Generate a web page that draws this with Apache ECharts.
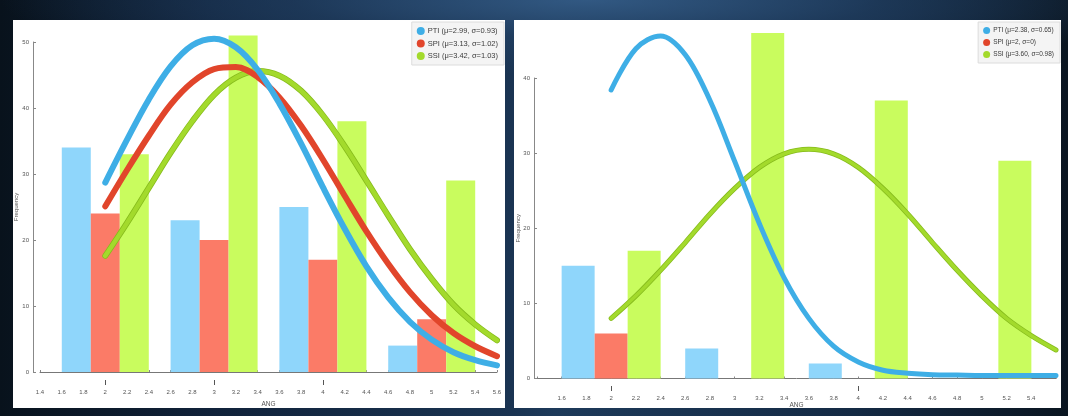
<!DOCTYPE html>
<html>
<head>
<meta charset="utf-8">
<script src="https://cdn.jsdelivr.net/npm/echarts@6/dist/echarts.min.js"></script>
<style>
  html, body { margin: 0; padding: 0; }
  body {
    width: 1068px; height: 416px; overflow: hidden; position: relative;
    background:
      radial-gradient(ellipse 55% 18% at 55% 0%, rgba(52, 92, 135, 0.9) 0%, rgba(35, 66, 102, 0.6) 50%, rgba(20, 40, 64, 0) 100%),
      linear-gradient(90deg, #08121c 0%, #10223a 20%, #1a3452 48%, #1d3a5a 52%, #142a44 80%, #0a1520 100%);
  }
  .panel { position: absolute; background: #ffffff; }
  #left  { left: 13px;  top: 20px; width: 492px; height: 388px; }
  #right { left: 514px; top: 20px; width: 547px; height: 388px; }
</style>
</head>
<body>
<div id="left" class="panel"></div>
<div id="right" class="panel"></div>
<script>
// ANG bin centres shared by both histograms
const ANG_GROUPS = [2, 3, 4, 5];

// Frequencies per bin, left histogram
const LEFT_PTI_BARS = [34, 23, 25, 4];
const LEFT_SPI_BARS = [24, 20, 17, 8];
const LEFT_SSI_BARS = [33, 51, 38, 29];

// Frequencies per bin, right histogram
const RIGHT_PTI_BARS = [15, 4, 2, 0];
const RIGHT_SPI_BARS = [6, 0, 0, 0];
const RIGHT_SSI_BARS = [17, 46, 37, 29];

// Fitted density curves, sampled along ANG
const CURVE_X = [2.0, 2.2, 2.4, 2.6, 2.8, 3.0, 3.2, 3.4, 3.6, 3.8, 4.0, 4.2, 4.4, 4.6, 4.8, 5.0, 5.2, 5.4, 5.6];
const LEFT_PTI_CURVE = [28.7, 35.2, 41.3, 46.3, 49.5, 50.5, 49.2, 45.8, 40.7, 34.6, 28.0, 21.7, 16.0, 11.3, 7.6, 4.9, 3.0, 1.8, 1.0];
const LEFT_SPI_CURVE = [25.1, 30.6, 35.8, 40.5, 43.9, 45.9, 46.2, 44.7, 41.6, 37.3, 32.2, 26.7, 21.3, 16.4, 12.1, 8.6, 5.9, 3.9, 2.4];
const LEFT_SSI_CURVE = [17.6, 22.6, 27.9, 33.2, 38.0, 42.0, 44.6, 45.6, 44.9, 42.6, 38.9, 34.2, 29.0, 23.7, 18.6, 14.1, 10.2, 7.2, 4.8];
const RIGHT_PTI_CURVE = [38.4, 43.9, 45.6, 43.1, 37.0, 28.9, 20.6, 13.4, 8.0, 4.3, 2.2, 1.1, 0.7, 0.5, 0.45, 0.4, 0.4, 0.4, 0.4];
const RIGHT_SSI_CURVE = [8.0, 11.0, 14.4, 18.1, 21.9, 25.3, 28.1, 29.9, 30.5, 29.9, 28.1, 25.3, 21.9, 18.1, 14.4, 11.0, 8.0, 5.7, 3.8];

// Axis ticks
const X_TICKS = [1.4, 1.6, 1.8, 2, 2.2, 2.4, 2.6, 2.8, 3, 3.2, 3.4, 3.6, 3.8, 4, 4.2, 4.4, 4.6, 4.8, 5, 5.2, 5.4, 5.6];
const X_TICKS_RIGHT_LABELS = [1.6, 1.8, 2, 2.2, 2.4, 2.6, 2.8, 3, 3.2, 3.4, 3.6, 3.8, 4, 4.2, 4.4, 4.6, 4.8, 5, 5.2, 5.4];
const X_MAJOR_LEFT = [2, 3, 4];
const X_MAJOR_RIGHT = [2, 4];
const Y_TICKS_LEFT = [0, 10, 20, 30, 40, 50];
const Y_TICKS_RIGHT = [0, 10, 20, 30, 40];

// Legend entries (fit parameters)
const LEFT_LEGEND = ['PTI (\u03bc=2.99, \u03c3=0.93)', 'SPI (\u03bc=3.13, \u03c3=1.02)', 'SSI (\u03bc=3.42, \u03c3=1.03)'];
const RIGHT_LEGEND = ['PTI (\u03bc=2.38, \u03c3=0.65)', 'SPI (\u03bc=2, \u03c3=0)', 'SSI (\u03bc=3.60, \u03c3=0.98)'];

const BAR_COLORS = { PTI: '#8fd6fb', SPI: '#fb7b67', SSI: '#c9fc5e' };
const CURVE_COLORS = { PTI: '#3eaee6', SPI: '#e1452b', SSI: '#a3da2c' };
const SSI_EDGE = '#86bb1c';
const FONT = '"Liberation Sans", "DejaVu Sans", sans-serif';

function pairs(xs, ys) { return xs.map((x, i) => [x, ys[i]]); }

function buildOption(cfg) {
  const bar = (name, vals) => ({
    type: 'bar', name: name, data: pairs(ANG_GROUPS, vals),
    barWidth: cfg.barWidth, barGap: '0%', clip: false, silent: true, z: 2,
    itemStyle: { color: BAR_COLORS[name] }
  });
  const curve = (key, label, vals, width) => ({
    type: 'line', name: label, data: vals ? pairs(CURVE_X, vals) : [],
    smooth: 0.35, showSymbol: false, clip: false, silent: true, z: 6,
    lineStyle: { width: width, color: CURVE_COLORS[key], cap: 'round' },
    itemStyle: { color: CURVE_COLORS[key] }
  });
  // darker rim under the SSI fit line
  const ssiRim = (vals, width) => ({
    type: 'line', name: 'SSI rim', data: pairs(CURVE_X, vals),
    smooth: 0.35, showSymbol: false, clip: false, silent: true, z: 5,
    lineStyle: { width: width + 1.5, color: SSI_EDGE, cap: 'round' }
  });

  const series = [
    bar('PTI', cfg.bars.PTI),
    bar('SPI', cfg.bars.SPI),
    bar('SSI', cfg.bars.SSI),
    ssiRim(cfg.curves.SSI, cfg.lineWidth.SSI),
    curve('SSI', cfg.legend[2], cfg.curves.SSI, cfg.lineWidth.SSI),
    curve('SPI', cfg.legend[1], cfg.curves.SPI, cfg.lineWidth.SPI),
    curve('PTI', cfg.legend[0], cfg.curves.PTI, cfg.lineWidth.PTI)
  ];

  const axisLabel = { fontFamily: FONT, fontSize: 6, color: '#555' };

  return {
    animation: false,
    backgroundColor: '#ffffff',
    legend: {
      data: cfg.legend, orient: 'vertical', top: 2, right: 1,
      icon: 'circle', itemWidth: cfg.legendIcon, itemHeight: cfg.legendIcon, itemGap: cfg.legendGap,
      padding: [5, 6, 5, 5],
      backgroundColor: '#f4f4f4', borderColor: '#dcdcdc', borderWidth: 1,
      selectedMode: false,
      textStyle: { fontFamily: FONT, fontSize: cfg.legendFont, color: '#3a3a3a', padding: [0, 0, 0, -2] }
    },
    grid: Object.assign({ containLabel: false, outerBoundsMode: 'none' }, cfg.grid),
    xAxis: [{
      type: 'value', min: 1.4, max: 5.6, interval: 0.2, position: 'bottom', offset: cfg.xOffset,
      name: 'ANG', nameLocation: 'middle', nameGap: cfg.xNameGap, nameMoveOverlap: false,
      nameTextStyle: { fontFamily: FONT, fontSize: 6.5, color: '#555' },
      axisLine: { show: true, lineStyle: { color: '#777', width: 1 } },
      axisTick: { show: true, inside: true, length: 2, customValues: X_TICKS, lineStyle: { color: '#888' } },
      axisLabel: Object.assign({ margin: 4, customValues: cfg.xLabels, showMinLabel: true, showMaxLabel: true }, axisLabel),
      splitLine: { show: false }
    }, {
      type: 'value', min: 1.4, max: 5.6, interval: 0.2, position: 'bottom', offset: cfg.xOffset,
      axisLine: { show: false },
      axisTick: { show: true, inside: true, length: 5, customValues: cfg.xMajor, lineStyle: { color: '#555' } },
      axisLabel: { show: false },
      splitLine: { show: false }
    }],
    yAxis: {
      type: 'value', min: 0, max: cfg.yMax, interval: 10, offset: cfg.yOffset,
      name: 'Frequency', nameLocation: 'middle', nameGap: cfg.yNameGap, nameRotate: 90, nameMoveOverlap: false,
      nameTextStyle: { fontFamily: FONT, fontSize: 6, color: '#555' },
      axisLine: { show: true, lineStyle: { color: '#888', width: 1 } },
      axisTick: { show: true, inside: true, length: 3, customValues: cfg.yTicks, lineStyle: { color: '#888' } },
      axisLabel: Object.assign({ margin: 4, customValues: cfg.yTicks }, axisLabel),
      splitLine: { show: false }
    },
    series: series
  };
}

const leftChart = echarts.init(document.getElementById('left'), null, { renderer: 'canvas' });
leftChart.setOption(buildOption({
  grid: { left: 27, right: 8, top: 22, bottom: 36 },
  xOffset: 13, xNameGap: 16, yOffset: 7, yMax: 50, yNameGap: 14,
  xLabels: X_TICKS, xMajor: X_MAJOR_LEFT, yTicks: Y_TICKS_LEFT,
  barWidth: 29,
  bars: { PTI: LEFT_PTI_BARS, SPI: LEFT_SPI_BARS, SSI: LEFT_SSI_BARS },
  curves: { PTI: LEFT_PTI_CURVE, SPI: LEFT_SPI_CURVE, SSI: LEFT_SSI_CURVE },
  lineWidth: { PTI: 6, SPI: 6, SSI: 4.5 },
  legend: LEFT_LEGEND, legendFont: 7.5, legendIcon: 8, legendGap: 4.5
}));

const rightChart = echarts.init(document.getElementById('right'), null, { renderer: 'canvas' });
rightChart.setOption(buildOption({
  grid: { left: 23, right: 5, top: 58, bottom: 29.5 },
  xOffset: 12.5, xNameGap: 11, yOffset: 3, yMax: 40, yNameGap: 13,
  xLabels: X_TICKS_RIGHT_LABELS, xMajor: X_MAJOR_RIGHT, yTicks: Y_TICKS_RIGHT,
  barWidth: 33,
  bars: { PTI: RIGHT_PTI_BARS, SPI: RIGHT_SPI_BARS, SSI: RIGHT_SSI_BARS },
  curves: { PTI: RIGHT_PTI_CURVE, SPI: null, SSI: RIGHT_SSI_CURVE },
  lineWidth: { PTI: 5, SPI: 5, SSI: 3.5 },
  legend: RIGHT_LEGEND, legendFont: 6.5, legendIcon: 7, legendGap: 5
}));
</script>
</body>
</html>
